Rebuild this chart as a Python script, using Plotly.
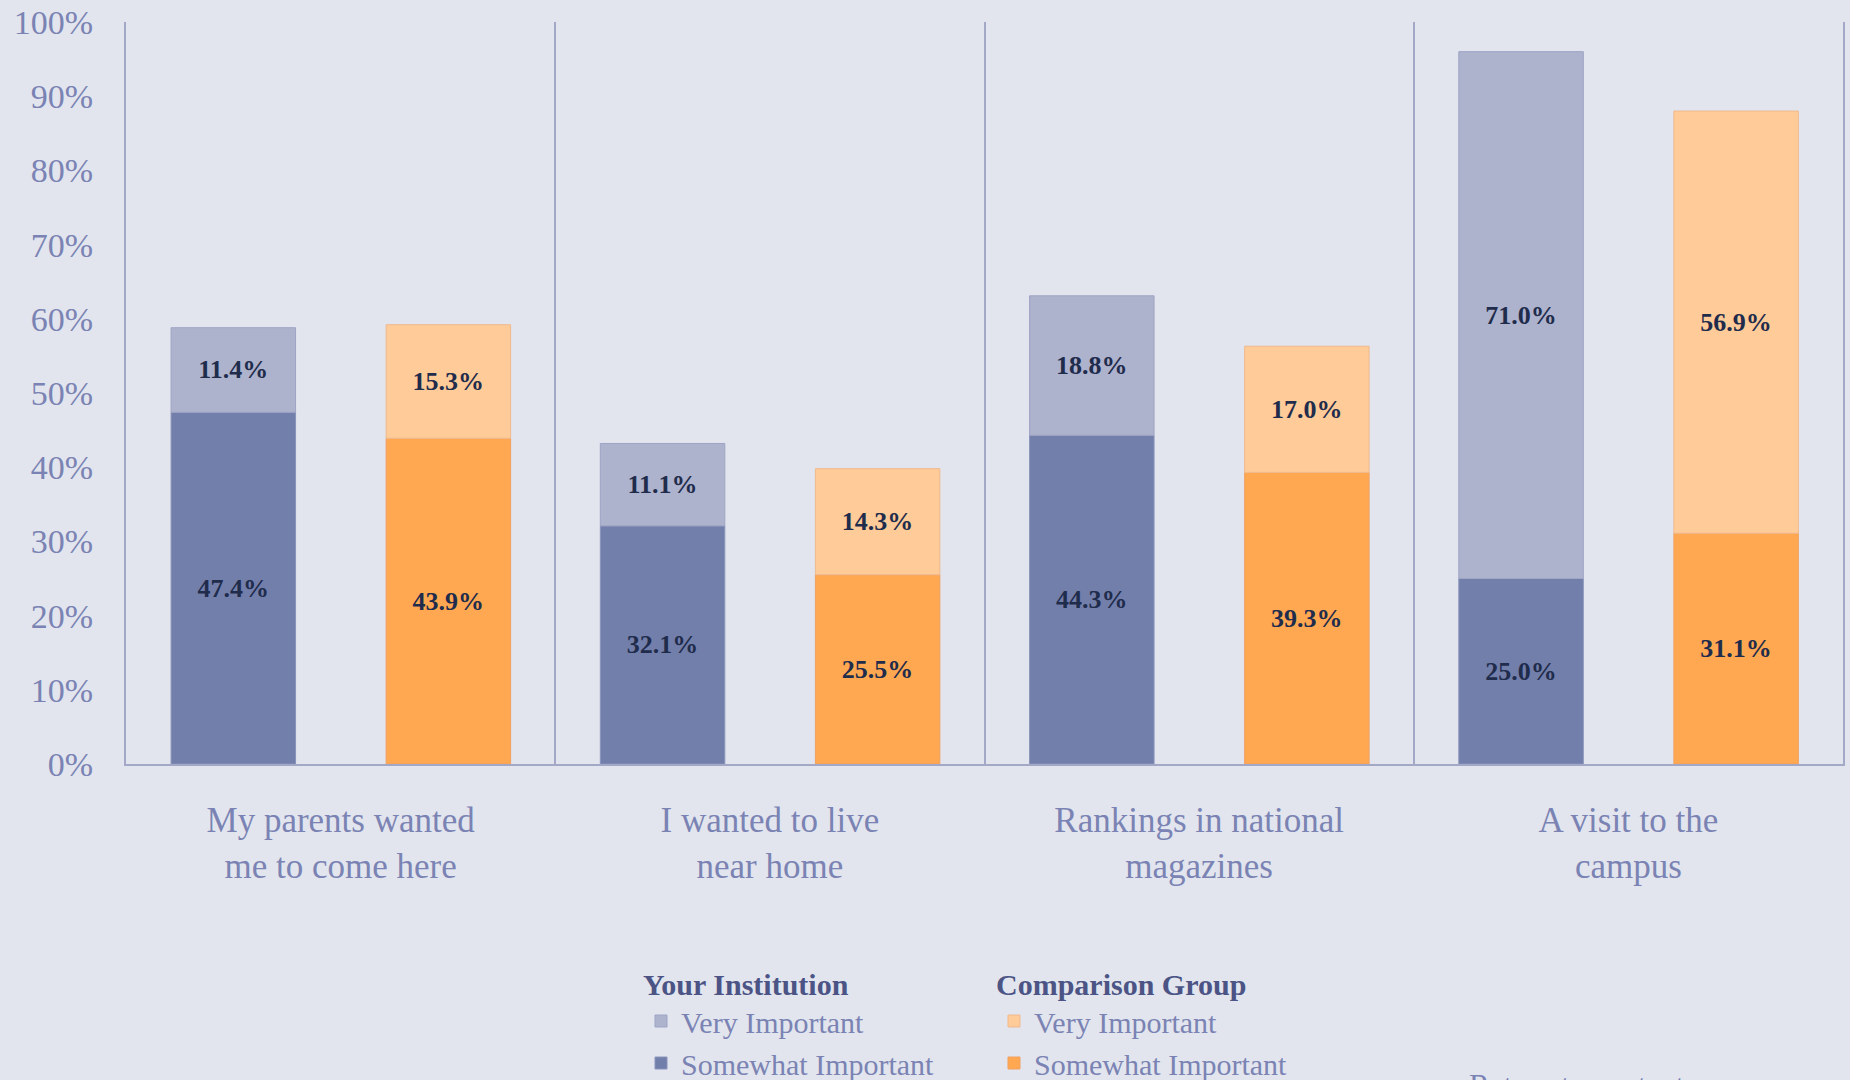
import plotly.graph_objects as go

categories = ["My parents wanted<br>me to come here", "I wanted to live<br>near home",
              "Rankings in national<br>magazines", "A visit to the<br>campus"]
inst_somewhat = [47.4, 32.1, 44.3, 25.0]
inst_very = [11.4, 11.1, 18.8, 71.0]
comp_somewhat = [43.9, 25.5, 39.3, 31.1]
comp_very = [15.3, 14.3, 17.0, 56.9]
y_ticks = [0, 10, 20, 30, 40, 50, 60, 70, 80, 90, 100]
y_tick_labels = ["0%", "10%", "20%", "30%", "40%", "50%", "60%", "70%", "80%", "90%", "100%"]

BG = "#e2e5ee"
AXIS = "#a3a8c6"
TICK = "#7a83b3"
LABEL = "#1f2c4c"
FONT = "Liberation Serif"

W, H = 1850, 1080
L, R, T, B = 126, 7, 22, 316
pw, ph = W - L - R, H - T - B

def px_x(x):
    return (x - L) / pw

def px_y(y):
    return (H - B - y) / ph

fig = go.Figure()

def add_bar(vals, base, color, line, name, legend, offset):
    fig.add_trace(go.Bar(
        x=categories, y=vals, base=base, name=name, legend=legend,
        offset=offset, width=0.29,
        marker=dict(color=color, line=dict(color=line, width=1)),
        texttemplate="%{y:.1f}%", textposition="inside", insidetextanchor="middle",
        textangle=0,
        textfont=dict(family=FONT, size=26, color=LABEL, weight="bold"),
        hoverinfo="skip",
    ))

add_bar(inst_somewhat, None, "#737fab", "#8a94ba", "Somewhat Important", "legend", -0.395)
add_bar(inst_very, inst_somewhat, "#adb2cd", "#9ea4c4", "Very Important", "legend", -0.395)
add_bar(comp_somewhat, None, "#ffa851", "#f0a060", "Somewhat Important", "legend2", 0.106)
add_bar(comp_very, comp_somewhat, "#ffcb98", "#efb98e", "Very Important", "legend2", 0.106)

legend_common = dict(
    traceorder="reversed",
    bgcolor="rgba(0,0,0,0)",
    font=dict(family=FONT, size=30, color=TICK),
    orientation="v", xanchor="left", yanchor="top",
    tracegroupgap=0, itemclick=False, itemdoubleclick=False,
)

fig.update_layout(
    width=W, height=H,
    margin=dict(l=L, r=R, t=T, b=B, pad=0, autoexpand=False),
    paper_bgcolor=BG, plot_bgcolor=BG,
    barmode="overlay",
    font=dict(family=FONT, color=TICK),
    showlegend=True,
    legend=dict(**legend_common, x=px_x(641), y=px_y(956),
                title=dict(text="<b>Your Institution</b>", side="top",
                           font=dict(family=FONT, size=30, color="#4b5485"))),
    legend2=dict(**legend_common, x=px_x(994), y=px_y(956),
                 title=dict(text="<b>Comparison Group</b>", side="top",
                            font=dict(family=FONT, size=30, color="#4b5485"))),
    xaxis=dict(
        type="category", range=[-0.5, 3.5], automargin=False,
        tickson="boundaries", ticks="", showgrid=True,
        gridcolor=AXIS, gridwidth=1.5,
        showline=True, linecolor=AXIS, linewidth=2,
        tickfont=dict(family=FONT, size=35, color=TICK),
        ticklabelstandoff=24,
        zeroline=False,
    ),
    yaxis=dict(
        range=[0, 100], tickvals=y_ticks, ticktext=y_tick_labels, automargin=False,
        showgrid=False, zeroline=False,
        showline=True, mirror=True, linecolor=AXIS, linewidth=2,
        ticks="", ticklabelstandoff=24,
        tickfont=dict(family=FONT, size=34, color=TICK),
    ),
    annotations=[dict(
        text="Return to contents", xref="paper", yref="paper",
        x=px_x(1467), y=px_y(1066), xanchor="left", yanchor="top",
        showarrow=False, font=dict(family=FONT, size=31, color=TICK),
    )],
)

fig.write_html(
    "out.html",
    config={"displayModeBar": False},
    post_script="document.body.style.margin='0';document.body.style.background='#e2e5ee';document.body.style.overflow='hidden';",
)
